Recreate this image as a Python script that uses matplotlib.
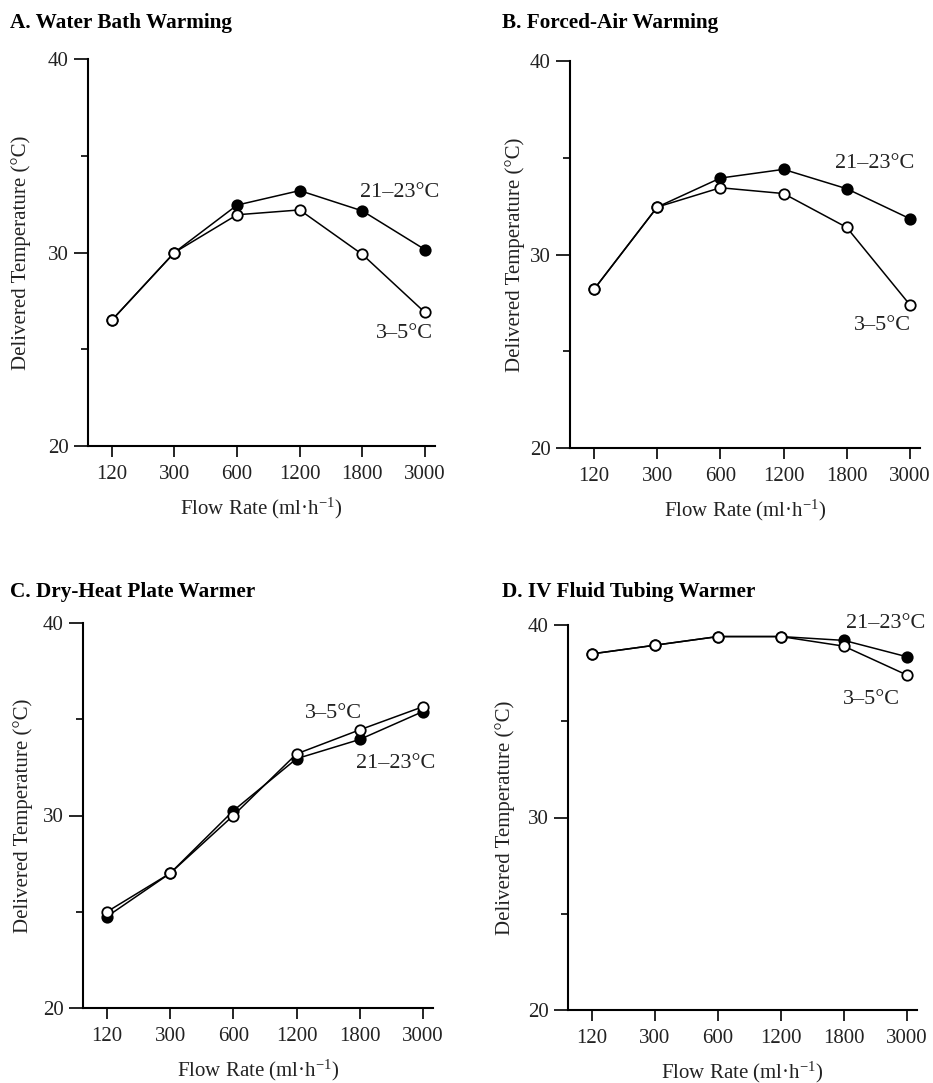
import matplotlib
matplotlib.use("Agg")
import matplotlib.pyplot as plt
import numpy as np

plt.rcParams["font.family"] = ["Liberation Serif", "DejaVu Serif"]
plt.rcParams["mathtext.fontset"] = "custom"
plt.rcParams["mathtext.rm"] = "Liberation Serif"
plt.rcParams["mathtext.it"] = "Liberation Serif:italic"

# Dados
flow_rates = ["120", "300", "600", "1200", "1800", "3000"]

titles = ["A. Water Bath Warming", "B. Forced-Air Warming",
          "C. Dry-Heat Plate Warmer", "D. IV Fluid Tubing Warmer"]

# Solução a 21-23 °C (círculos cheios)
warm_a = [26.5, 30.0, 32.45, 33.2, 32.15, 30.15]
warm_b = [28.2, 32.45, 33.95, 34.4, 33.4, 31.85]
warm_c = [24.75, 27.0, 30.25, 32.95, 33.95, 35.4]
warm_d = [38.5, 38.95, 39.4, 39.4, 39.2, 38.35]

# Solução a 3-5 °C (círculos abertos)
cold_a = [26.5, 30.0, 31.95, 32.2, 29.9, 26.9]
cold_b = [28.2, 32.45, 33.45, 33.15, 31.4, 27.4]
cold_c = [25.0, 27.0, 30.0, 33.2, 34.45, 35.65]
cold_d = [38.5, 38.95, 39.4, 39.4, 38.9, 37.4]

warm_label = "21–23°C"
cold_label = "3–5°C"

# Posição dos rótulos das curvas (índice da categoria, temperatura)
warm_text_pos = [(4.6, 33.1), (4.45, 34.7), (4.57, 32.7), (4.67, 40.1)]
cold_text_pos = [(4.67, 25.8), (4.56, 26.35), (3.59, 35.3), (4.43, 36.15)]

# Caixas dos eixos em pixels: (esquerda, direita, topo, base)
W, H = 933, 1083
boxes = [(88, 435, 59, 446), (570, 920, 61, 448),
         (83, 433, 623, 1008), (568, 917, 625, 1010)]
title_pos = [(10, 28), (502, 28), (10, 597), (502, 597)]
ylabel_pads = [12, 3.5, 7, 9]

warm_all = [warm_a, warm_b, warm_c, warm_d]
cold_all = [cold_a, cold_b, cold_c, cold_d]

fig = plt.figure(figsize=(W / 100, H / 100), dpi=100)

for i in range(4):
    l, r, t, b = boxes[i]
    ax = fig.add_axes([l / W, 1 - b / H, (r - l) / W, (b - t) / H])
    x = np.arange(len(flow_rates))

    ax.plot(x, warm_all[i], color="black", linewidth=1.1, marker="o",
            markersize=7.5, markerfacecolor="black", markeredgecolor="black",
            markeredgewidth=1.3, zorder=3)
    ax.plot(x, cold_all[i], color="black", linewidth=1.1, marker="o",
            markersize=7.5, markerfacecolor="white", markeredgecolor="black",
            markeredgewidth=1.3, zorder=4)

    ax.set_xlim(-0.38, 5.16)
    ax.set_ylim(20, 40)
    ax.set_xticks(x)
    ax.set_xticklabels(flow_rates)
    ax.set_yticks([20, 30, 40])
    ax.set_yticks([25, 35], minor=True)

    for side in ["top", "right"]:
        ax.spines[side].set_visible(False)
    for side in ["left", "bottom"]:
        ax.spines[side].set_linewidth(1.5)

    ax.tick_params(axis="both", which="major", labelsize=15, width=1.2,
                   length=8, pad=6, color="black", labelcolor="#222222")
    ax.tick_params(axis="y", which="major", length=10, pad=4)
    ax.tick_params(axis="y", which="minor", length=5, width=1.2)

    ax.set_xlabel("Flow Rate (ml·h$^{-1}$)", fontsize=15, labelpad=8,
                  color="#222222")
    ax.set_ylabel("Delivered Temperature (°C)", fontsize=15,
                  labelpad=ylabel_pads[i], color="#222222")

    ax.text(warm_text_pos[i][0], warm_text_pos[i][1], warm_label,
            fontsize=16, ha="center", va="center", color="#222222")
    ax.text(cold_text_pos[i][0], cold_text_pos[i][1], cold_label,
            fontsize=16, ha="center", va="center", color="#222222")

    fig.text(title_pos[i][0] / W, 1 - title_pos[i][1] / H, titles[i],
             fontsize=15.3, fontweight="bold", ha="left", va="baseline")

fig.savefig("out.png", dpi=100)
